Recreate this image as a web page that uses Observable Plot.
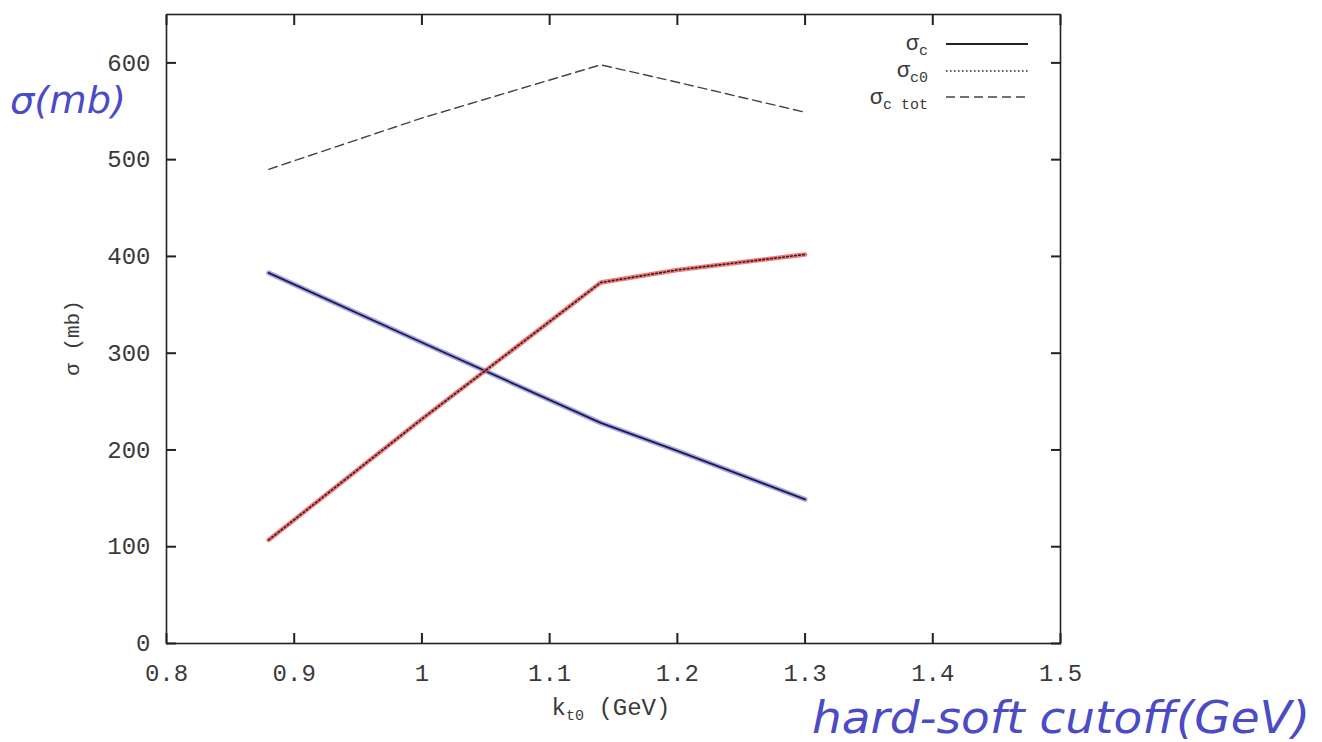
<!DOCTYPE html>
<html><head><meta charset="utf-8">
<script src="https://cdn.jsdelivr.net/npm/d3@7"></script>
<script src="https://cdn.jsdelivr.net/npm/@observablehq/plot@0.6"></script>
<style>
body{margin:0;background:#fff;}
#wrap{position:relative;width:1322px;height:742px;overflow:hidden;background:#fff}
.lbl{position:absolute;font-family:"Liberation Mono",monospace;color:#3a3a3a;font-size:22px;white-space:nowrap;line-height:1}
.lbl sub{font-size:15px;vertical-align:-5px}
#overlay{position:absolute;left:0;top:0}
</style></head><body><div id="wrap"></div>
<script>
// Data
const kt0 = [0.88, 1.0, 1.14, 1.2, 1.3];
const sigmaC = [383, 311, 228, 199, 149];
const sigmaC0 = [107, 232, 373, 386, 402];
const sigmaTot = [490, 543, 598, 580, 549];
const xTicks = [0.8, 0.9, 1, 1.1, 1.2, 1.3, 1.4, 1.5];
const xTickLabels = ["0.8", "0.9", "1", "1.1", "1.2", "1.3", "1.4", "1.5"];
const yTicks = [0, 100, 200, 300, 400, 500, 600];
const yTickLabels = ["0", "100", "200", "300", "400", "500", "600"];

const rows = kt0.map((k, i) => ({k, c: sigmaC[i], c0: sigmaC0[i], tot: sigmaTot[i]}));

const tickColor = "#222";
const plot = Plot.plot({
  width: 1322, height: 742,
  marginLeft: 166, marginRight: 262, marginTop: 14, marginBottom: 99,
  x: {domain: [0.8, 1.5]},
  y: {domain: [0, 650]},
  style: {fontFamily: "Liberation Mono, monospace", fontSize: "24px", color: "#3a3a3a", background: "white"},
  marks: [
    // inward ticks on all four sides
    Plot.axisX({ticks: xTicks, anchor: "bottom", tickSize: -10, text: null, label: null, stroke: tickColor, strokeWidth: 2}),
    Plot.axisX({ticks: xTicks, anchor: "top", tickSize: -10, text: null, label: null, stroke: tickColor, strokeWidth: 2}),
    Plot.axisY({ticks: yTicks, anchor: "left", tickSize: -10, text: null, label: null, stroke: tickColor, strokeWidth: 2}),
    Plot.axisY({ticks: yTicks, anchor: "right", tickSize: -10, text: null, label: null, stroke: tickColor, strokeWidth: 2}),
    // tick labels
    Plot.axisX({ticks: xTicks, anchor: "bottom", tickSize: 0, tickPadding: 20, label: null,
      tickFormat: d => xTickLabels[xTicks.indexOf(d)]}),
    Plot.axisY({ticks: yTicks, anchor: "left", tickSize: 0, tickPadding: 16, label: null,
      tickFormat: d => yTickLabels[yTicks.indexOf(d)]}),
    Plot.frame({stroke: "#222", strokeWidth: 1.6}),
    // sigma_c tot (dashed)
    Plot.line(rows, {x: "k", y: "tot", stroke: "#444", strokeWidth: 1.4, strokeDasharray: "9,5"}),
    // sigma_c (solid, blue ink over black)
    Plot.line(rows, {x: "k", y: "c", stroke: "#6a6ad8", strokeWidth: 5, strokeOpacity: 0.6}),
    Plot.line(rows, {x: "k", y: "c", stroke: "#1c1c4a", strokeWidth: 1.8}),
    // sigma_c0 (dotted, red ink under dots)
    Plot.line(rows, {x: "k", y: "c0", stroke: "#f04848", strokeWidth: 4.5, strokeOpacity: 0.75}),
    Plot.line(rows, {x: "k", y: "c0", stroke: "#222", strokeWidth: 1.6, strokeDasharray: "1.5,2.5"})
  ]
});

const wrap = document.getElementById("wrap");
wrap.appendChild(plot);

function addLabel(html, style) {
  const d = document.createElement("div");
  d.className = "lbl";
  d.innerHTML = html;
  Object.assign(d.style, style);
  wrap.appendChild(d);
  return d;
}

// axis titles
addLabel("σ (mb)", {left: "73px", top: "338px", fontSize: "21px", transform: "translate(-50%,-50%) rotate(-90deg)"});
addLabel("k<sub>t0</sub> (GeV)", {left: "611px", top: "710px", fontSize: "24px", transform: "translate(-50%,-50%)"});

// legend labels (right aligned)
addLabel("σ<sub>c</sub>", {right: "394px", top: "34px"});
addLabel("σ<sub>c0</sub>", {right: "394px", top: "61px"});
addLabel("σ<sub>c tot</sub>", {right: "394px", top: "88px"});

// overlay: legend samples and handwritten annotations
const ns = "http://www.w3.org/2000/svg";
const ov = document.createElementNS(ns, "svg");
ov.setAttribute("id", "overlay");
ov.setAttribute("width", 1322);
ov.setAttribute("height", 742);
wrap.appendChild(ov);
function el(tag, attrs, text) {
  const e = document.createElementNS(ns, tag);
  for (const k in attrs) e.setAttribute(k, attrs[k]);
  if (text) e.textContent = text;
  ov.appendChild(e);
  return e;
}
el("line", {x1: 946, x2: 1028, y1: 44, y2: 44, stroke: "#222", "stroke-width": 2});
el("line", {x1: 946, x2: 1028, y1: 71, y2: 71, stroke: "#222", "stroke-width": 1.6, "stroke-dasharray": "1.5,2.5"});
el("line", {x1: 946, x2: 1028, y1: 97, y2: 97, stroke: "#444", "stroke-width": 1.6, "stroke-dasharray": "9,5"});

const ink = "#4b4bc6";
el("text", {x: 10, y: 113, fill: ink, "font-family": "DejaVu Sans", "font-style": "italic", "font-size": 38, textLength: 116, lengthAdjust: "spacingAndGlyphs"}, "σ(mb)");
el("text", {x: 812, y: 733, fill: ink, "font-family": "DejaVu Sans", "font-style": "italic", "font-size": 44, textLength: 498, lengthAdjust: "spacingAndGlyphs"}, "hard-soft cutoff(GeV)");
</script>
</body></html>
